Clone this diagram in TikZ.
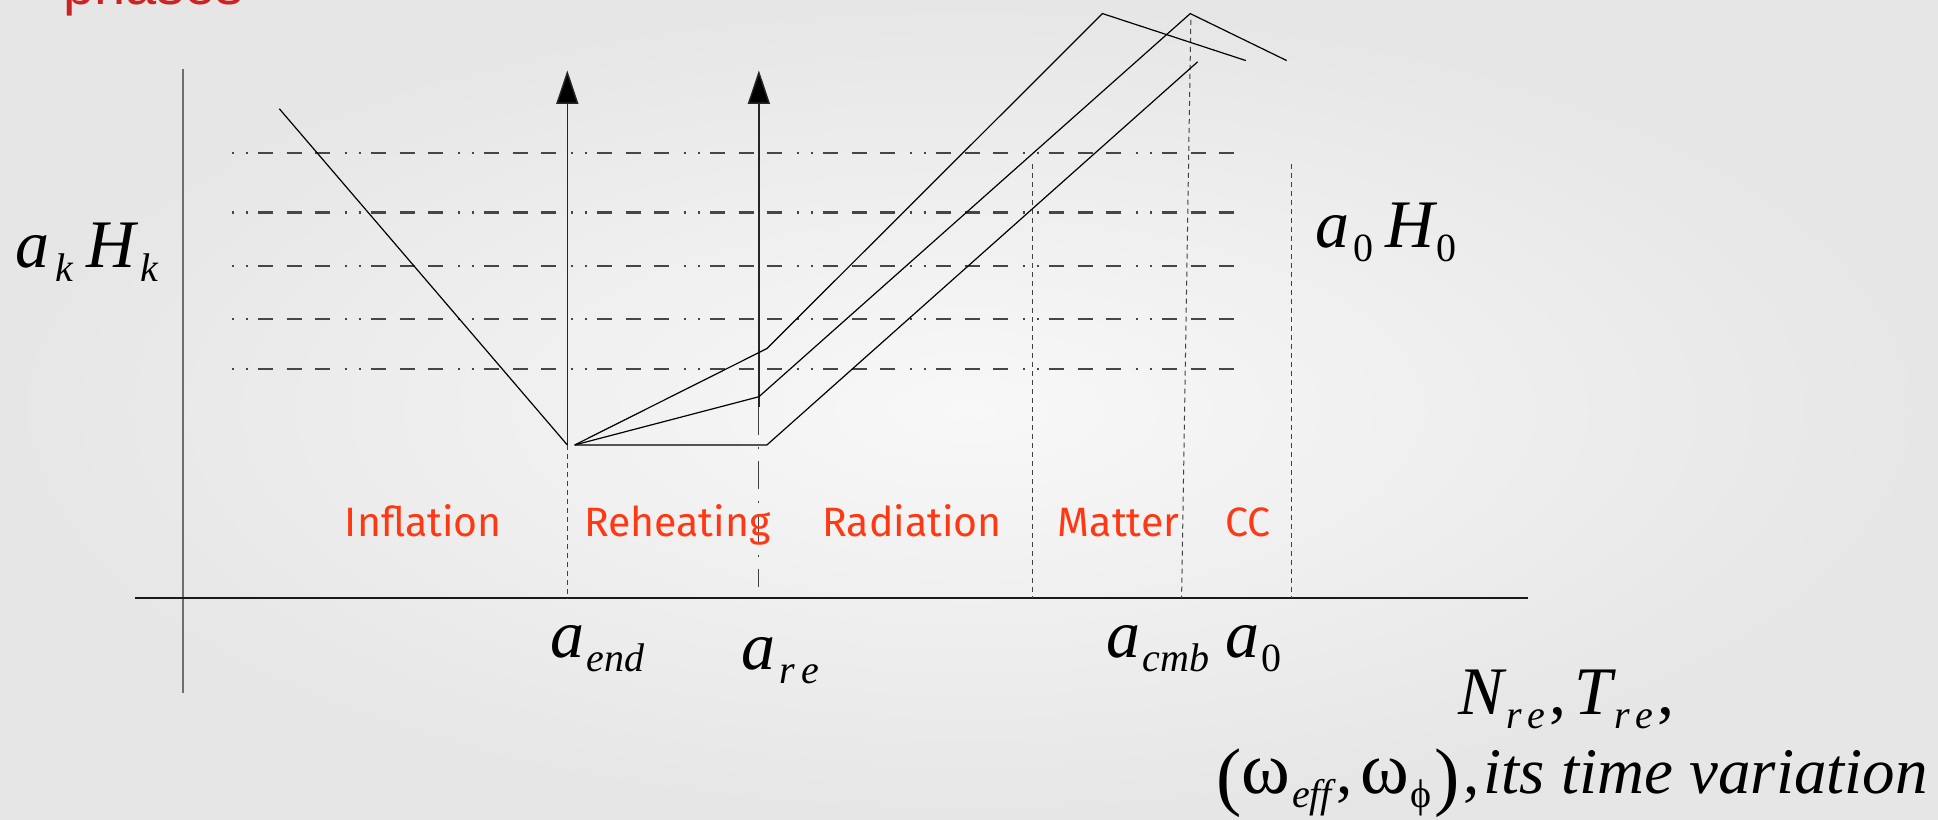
\documentclass[tikz,border=0pt]{standalone}
\usepackage{fontspec}
\setmainfont{Liberation Serif}
\newfontfamily\labfont{Fira Sans}
\newfontfamily\ttlfont{Liberation Sans}
\usetikzlibrary{arrows.meta}
\definecolor{lab}{RGB}{255,56,20}
\definecolor{ttl}{RGB}{204,34,34}
\definecolor{bgin}{RGB}{248,248,248}
\definecolor{bgout}{RGB}{230,230,230}
\definecolor{axgray}{RGB}{110,110,110}
\definecolor{dgray}{RGB}{70,70,70}
\newcommand\msub[1]{\raisebox{-7pt}{\fontsize{20}{20}\selectfont #1}}
\newcommand\bigmath{\fontsize{34}{40}\selectfont\itshape}
\newcommand\bigparen[1]{\raisebox{-4pt}{\fontsize{38}{38}\selectfont\upshape #1}}
\newcommand\bigomega{{\fontsize{37}{40}\selectfont\upshape ω}}
\begin{document}
\begin{tikzpicture}[x=0.618pt,y=-0.618pt,
  curve/.style={line width=0.6pt, black},
  yaxisline/.style={line width=1pt, axgray},
  xaxisline/.style={line width=1pt, black!90},
  arrowline/.style={line width=0.7pt, black!85, -{Triangle[length=16.7pt,width=11pt,fill=black]}},
  hdashdot/.style={line width=1.1pt, dgray, dash pattern=on 1pt off 6pt on 1pt off 5pt on 7.5pt off 7pt on 7.5pt off 6.5pt on 7.5pt off 7.5pt},
  vdash/.style={line width=0.5pt, black!75, dash pattern=on 2.5pt off 2pt},
  redash/.style={line width=0.6pt, black!75, dash pattern=on 14pt off 6pt on 1pt off 6pt},
  mathlab/.style={anchor=base west, inner sep=0pt, font=\bigmath},
  phase/.style={anchor=base, inner sep=0pt, text=lab, font=\labfont\fontsize{20.5}{24}\selectfont}]
\useasboundingbox (0,0) rectangle (1568,663);
\shade[inner color=bgin, outer color=bgout] (0,0) rectangle (1568,663);

% title fragment
\node[anchor=base west, inner sep=0pt, text=ttl, font=\ttlfont\fontsize{28}{30}\selectfont] (title) at (51,4) {phases};

% axes
\coordinate (yb) at (148,561);
\coordinate (yt) at (148,56);
\coordinate (xl) at (109,484);
\coordinate (xr) at (1236,484);
\draw[yaxisline] (yb) -- (yt);
\draw[xaxisline] (xl) -- (xr);

% horizontal dash-dot lines
\foreach \yy [count=\i] in {123.5,172,215.3,258,298.6}{
  \coordinate (hl\i) at (187.5,\yy);
  \coordinate (hr\i) at (1000,\yy);
  \draw[hdashdot] (hl\i) -- (hr\i);
}

% key points
\coordinate (infTop) at (226,88);
\coordinate (V) at (459,360);
\coordinate (S) at (465,360);
\coordinate (K1) at (620.5,282);
\coordinate (P1) at (892,11);
\coordinate (E1) at (1008,49);
\coordinate (K2) at (614,321);
\coordinate (P2) at (963,11);
\coordinate (E2) at (1041,49);
\coordinate (K3) at (620.5,360);
\coordinate (E3) at (969,50);
\coordinate (T1) at (459,57);
\coordinate (R0) at (614,329);
\coordinate (T2) at (614,57);

% vertical markers
\coordinate (endB) at (459,484);
\coordinate (reB) at (614,475);
\coordinate (mT) at (835,133);
\coordinate (mB) at (835,484);
\coordinate (cT) at (963.5,16);
\coordinate (cB) at (956,484);
\coordinate (ccT) at (1045,133);
\coordinate (ccB) at (1045,484);
\draw[vdash] (V) -- (endB);
\draw[redash] (R0) -- (reB);
\draw[vdash] (mT) -- (mB);
\draw[vdash] (cT) -- (cB);
\draw[vdash] (ccT) -- (ccB);

% arrows
\draw[arrowline] (V) -- (T1);
\draw[arrowline] (R0) -- (T2);

% curves
\draw[curve] (infTop) -- (V);
\draw[curve] (S) -- (K1) -- (P1) -- (E1);
\draw[curve] (S) -- (K2) -- (P2) -- (E2);
\draw[curve] (S) -- (K3) -- (E3);

% phase labels
\node[phase] (inf) at (342.5,434) {Inflation};
\node[phase] (reh) at (548,434) {Reheating};
\node[phase] (rad) at (738,434) {Radiation};
\node[phase] (mat) at (905,434) {Matter};
\node[phase] (cc) at (1010,434) {CC};

% math labels
\node[mathlab] (akHk) at (12,216.8) {a\kern3pt\msub{k}\kern7pt H\kern2pt\msub{k}};
\node[mathlab] (a0H0) at (1064,200.6) {a\kern2pt\msub{\upshape 0}\kern6pt H\kern1pt\msub{\upshape 0}};
\node[mathlab] (aend) at (445,532) {a\kern1pt\msub{end}};
\node[mathlab] (are) at (600,542) {a\kern2pt\msub{r\kern3pt e}};
\node[mathlab] (acmb) at (895,532) {a\kern1pt\msub{cmb}};
\node[mathlab] (azero) at (991,532) {a\kern1pt\msub{\upshape 0}};
\node[mathlab] (NT) at (1180,578) {N\kern1pt\msub{r\kern3pt e}\kern2pt\upshape,\kern4pt\itshape T\kern1pt\msub{r\kern3pt e}\kern2pt\upshape,};
\node[mathlab, anchor=base east, font=\fontsize{32.5}{40}\selectfont\itshape] (omega) at (1560,642) {\bigparen{(}\bigomega\kern1pt\msub{eff}\kern2pt{\upshape ,}\kern4pt\bigomega\kern1pt\msub{\upshape ϕ}\kern1pt\bigparen{)}\kern2pt{\upshape ,}\kern2pt its time variation};
\end{tikzpicture}
\end{document}
